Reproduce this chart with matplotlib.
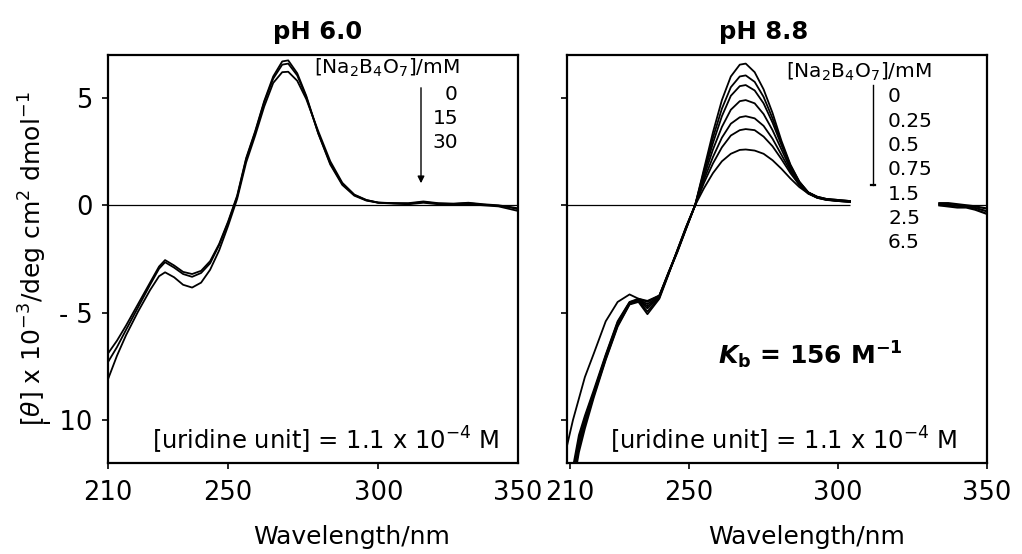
import matplotlib.pyplot as plt
from matplotlib.patches import FancyArrowPatch

W, H = 1022, 554

# pH 6.0 spectra, [Na2B4O7] = 0, 15, 30 mM
wl_l = [210, 213, 216, 220, 224, 227, 229, 232, 235, 238, 241, 244, 247, 250,
        253, 256, 259, 262, 265, 268, 270, 273, 276, 280, 284, 288, 292, 296,
        300, 305, 310, 315, 320, 325, 330, 335, 340, 344, 347]
l_0 = [-6.9, -6.3, -5.6, -4.6, -3.6, -2.85, -2.55, -2.8, -3.1, -3.2, -3.05, -2.6, -1.8, -0.75,
       0.45, 2.2, 3.45, 4.85, 6.0, 6.7, 6.75, 6.15, 5.1, 3.35, 1.9, 0.95, 0.45, 0.22,
       0.12, 0.1, 0.1, 0.18, 0.1, 0.08, 0.12, 0.05, 0.0, -0.08, -0.15]
l_15 = [-7.3, -6.6, -5.8, -4.75, -3.7, -2.95, -2.65, -2.9, -3.2, -3.33, -3.15, -2.7, -1.85, -0.8,
        0.4, 2.15, 3.4, 4.8, 5.9, 6.55, 6.6, 6.05, 5.05, 3.35, 1.95, 1.0, 0.48, 0.24,
        0.13, 0.1, 0.08, 0.15, 0.08, 0.06, 0.1, 0.03, -0.02, -0.1, -0.2]
l_30 = [-8.1, -7.0, -6.05, -4.95, -3.95, -3.3, -3.12, -3.35, -3.7, -3.83, -3.6, -3.0, -2.1, -0.95,
        0.3, 2.0, 3.25, 4.6, 5.7, 6.2, 6.22, 5.8, 4.95, 3.45, 2.05, 1.05, 0.5, 0.25,
        0.12, 0.08, 0.05, 0.12, 0.05, 0.03, 0.05, 0.0, -0.05, -0.18, -0.28]
conc_l = ['0', '15', '30']

# pH 8.8 spectra, [Na2B4O7] = 0 ... 6.5 mM
wl_r = [209, 211, 213, 215, 218, 222, 226, 230, 233, 236, 240, 243, 246, 249,
        252, 255, 258, 261, 264, 267, 269, 272, 275, 278, 281, 284, 287, 290,
        293, 296, 300, 304]
r_0 = [-11.2, -10.0, -9.0, -8.0, -6.9, -5.4, -4.5, -4.15, -4.35, -4.45, -4.2, -3.2, -2.2, -1.1,
       0.0, 1.7, 3.4, 4.9, 6.0, 6.55, 6.6, 6.2, 5.4, 4.3, 3.0, 1.9, 1.1, 0.6,
       0.4, 0.3, 0.25, 0.2]
r_025 = [-13.5, -12.2, -10.7, -9.8, -8.6, -6.95, -5.4, -4.5, -4.35, -4.5, -4.2, -3.15, -2.15, -1.05,
         0.0, 1.6, 3.15, 4.5, 5.5, 6.0, 6.05, 5.75, 5.05, 4.05, 2.9, 1.85, 1.1, 0.6,
         0.4, 0.3, 0.25, 0.2]
r_05 = [-13.7, -12.4, -10.9, -9.9, -8.7, -7.0, -5.45, -4.52, -4.38, -4.6, -4.22, -3.15, -2.15, -1.05,
        0.0, 1.5, 2.9, 4.15, 5.1, 5.55, 5.6, 5.35, 4.75, 3.85, 2.8, 1.8, 1.05, 0.6,
        0.38, 0.28, 0.22, 0.2]
r_075 = [-13.9, -12.6, -11.0, -10.0, -8.75, -7.05, -5.5, -4.55, -4.4, -4.7, -4.25, -3.2, -2.15, -1.05,
         0.0, 1.35, 2.6, 3.65, 4.45, 4.85, 4.9, 4.75, 4.25, 3.5, 2.6, 1.7, 1.0, 0.6,
         0.38, 0.28, 0.22, 0.18]
r_15 = [-14.0, -12.7, -11.1, -10.1, -8.8, -7.1, -5.55, -4.58, -4.42, -4.8, -4.27, -3.2, -2.15, -1.05,
        0.0, 1.2, 2.25, 3.15, 3.8, 4.1, 4.15, 4.05, 3.7, 3.1, 2.35, 1.6, 0.95, 0.55,
        0.36, 0.27, 0.2, 0.18]
r_25 = [-14.2, -12.9, -11.3, -10.2, -8.85, -7.15, -5.6, -4.6, -4.45, -4.95, -4.3, -3.2, -2.1, -1.0,
        0.0, 1.05, 1.95, 2.7, 3.25, 3.5, 3.55, 3.5, 3.2, 2.75, 2.15, 1.5, 0.95, 0.55,
        0.35, 0.26, 0.2, 0.16]
r_65 = [-14.4, -13.1, -11.5, -10.4, -8.95, -7.2, -5.65, -4.62, -4.5, -5.07, -4.35, -3.25, -2.1, -1.0,
        0.0, 0.8, 1.5, 2.05, 2.4, 2.58, 2.6, 2.55, 2.4, 2.1, 1.7, 1.25, 0.85, 0.55,
        0.35, 0.25, 0.2, 0.15]
conc_r = ['0', '0.25', '0.5', '0.75', '1.5', '2.5', '6.5']

# short piece of the pH 8.8 spectra after the gap
wl_tail = [334, 337, 340, 343, 346, 348, 350]
tail_hi = [0.1, 0.1, 0.05, 0.0, -0.05, -0.1, -0.15]
tail_mid = [0.05, 0.02, -0.02, -0.05, -0.12, -0.2, -0.28]
tail_lo = [0.0, -0.05, -0.1, -0.1, -0.2, -0.3, -0.4]

yticks = [5, 0, -5, -10]
ytick_labels = ['5', '0', '- 5', '- 10']

plt.rcParams['font.family'] = ['DejaVu Sans']
plt.rcParams['mathtext.fontset'] = 'dejavusans'


def fx(x):
    return x / W


def fy(y):
    return 1 - y / H


fig = plt.figure(figsize=(W / 100, H / 100), dpi=100)
ax1 = fig.add_axes([fx(108), fy(463), fx(518) - fx(108), fy(55) - fy(463)])
ax2 = fig.add_axes([fx(567), fy(463), fx(987) - fx(567), fy(55) - fy(463)])

for ys in (l_0, l_15, l_30):
    ax1.plot(wl_l, ys, color='black', lw=1.3)
ax1.axhline(0, color='black', lw=0.9)

for ys in (r_0, r_025, r_05, r_075, r_15, r_25, r_65):
    ax2.plot(wl_r, ys, color='black', lw=1.3)
for ys in (tail_hi, tail_mid, tail_lo):
    ax2.plot(wl_tail, ys, color='black', lw=1.6)
# zero line is broken behind the concentration list
ax2.hlines([0, 0], [209, wl_tail[0]], [wl_r[-1], 350], color='black', lw=0.9)

ax1.set_xlim(210, 346.5)
ax2.set_xlim(209, 350)
ax1.set_xticks([210, 250, 300, 346.5], labels=['210', '250', '300', '350'])
ax2.set_xticks([210, 250, 300, 350], labels=['210', '250', '300', '350'])

for ax in (ax1, ax2):
    ax.set_ylim(-12, 7)
    ax.set_yticks(yticks)
    for s in ax.spines.values():
        s.set_linewidth(1.6)
    ax.tick_params(direction='out', length=4, width=1.2, labelsize=18.5)
    ax.tick_params(axis='x', pad=8)
    ax.tick_params(axis='y', pad=7)
ax1.set_yticklabels(ytick_labels)
ax2.set_yticklabels([])
ax1.get_xticklines()[-2].set_visible(False)

# titles and axis labels
fig.text(fx(318), fy(32), 'pH 6.0', ha='center', va='center', fontsize=17.5, fontweight='bold')
fig.text(fx(764), fy(32), 'pH 8.8', ha='center', va='center', fontsize=17.5, fontweight='bold')
fig.text(fx(352), fy(537), 'Wavelength/nm', ha='center', va='center', fontsize=18)
fig.text(fx(807), fy(537), 'Wavelength/nm', ha='center', va='center', fontsize=18)
fig.text(fx(33), fy(259), r'[$\theta$] x 10$^{-3}$/deg cm$^{2}$ dmol$^{-1}$',
         rotation=90, ha='center', va='center', fontsize=18)

# uridine concentration
uri = r'[uridine unit] = 1.1 x 10$^{-4}$ M'
fig.text(fx(152), fy(440), uri, ha='left', va='center', fontsize=17.5)
fig.text(fx(610), fy(440), uri, ha='left', va='center', fontsize=17.5)

# binding constant
fig.text(fx(810), fy(355), r'$\mathbfit{K}_{\mathbf{b}}$ = 156 M$^{\mathbf{-1}}$',
         ha='center', va='center', fontsize=18, fontweight='bold')

# borate concentration lists
salt = r'[Na$_2$B$_4$O$_7$]/mM'
fig.text(fx(460), fy(68), salt, ha='right', va='center', fontsize=14.5)
for i, c in enumerate(conc_l):
    fig.text(fx(458), fy(94 + 24.5 * i), c, ha='right', va='center', fontsize=14.5)
fig.add_artist(FancyArrowPatch(
    (fx(421), fy(85)), (fx(421), fy(186)), transform=fig.transFigure,
    arrowstyle='-|>', mutation_scale=10, lw=1.0, color='black'))

fig.text(fx(932), fy(72), salt, ha='right', va='center', fontsize=14.5)
for i, c in enumerate(conc_r):
    fig.text(fx(888), fy(97 + 24.3 * i), c, ha='left', va='center', fontsize=14.5)
fig.add_artist(plt.Line2D([fx(873), fx(873)], [fy(85), fy(185)], color='black', lw=1.0))
fig.add_artist(plt.Line2D([fx(871), fx(875)], [fy(185), fy(185)], color='black', lw=1.6))

fig.savefig('out.png', dpi=100)
